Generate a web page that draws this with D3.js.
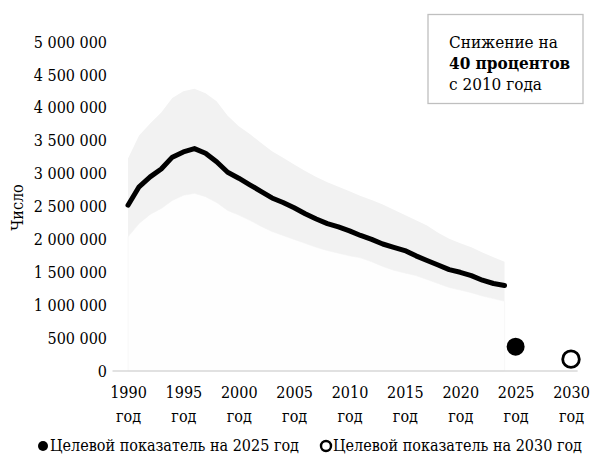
<!DOCTYPE html>
<html>
<head>
<meta charset="utf-8">
<script src="https://cdn.jsdelivr.net/npm/d3@7"></script>
<style>
  html, body { margin: 0; padding: 0; background: #fff; }
  svg text { font-family: "DejaVu Serif Condensed", "DejaVu Serif", serif; font-stretch: condensed; font-size: 16px; }
  svg text.note { font-size: 17px; }
</style>
</head>
<body>
<svg id="chart" width="596" height="454"></svg>
<script>
const years = d3.range(1990, 2025);
const central = [2.52,2.80,2.95,3.07,3.25,3.33,3.38,3.31,3.18,3.02,2.93,2.83,2.73,2.63,2.56,2.48,2.39,2.31,2.24,2.19,2.13,2.06,2.00,1.93,1.88,1.83,1.75,1.68,1.61,1.54,1.50,1.45,1.38,1.33,1.30].map(v => v * 1e6);
const upper = [3.23,3.58,3.76,3.93,4.15,4.25,4.29,4.22,4.10,3.88,3.72,3.60,3.47,3.34,3.24,3.14,3.04,2.95,2.87,2.80,2.73,2.66,2.60,2.53,2.45,2.37,2.29,2.21,2.10,2.01,1.94,1.88,1.80,1.73,1.66].map(v => v * 1e6);
const lower = [2.04,2.24,2.38,2.47,2.59,2.67,2.70,2.65,2.56,2.44,2.37,2.29,2.20,2.12,2.06,2.00,1.94,1.88,1.83,1.79,1.75,1.72,1.66,1.59,1.53,1.49,1.45,1.39,1.33,1.27,1.23,1.19,1.14,1.10,1.06].map(v => v * 1e6);
const targetYears = [2025, 2030];
const targetValues = [370000, 180000];
const targetFilled = [true, false];
const xTicks = [1990, 1995, 2000, 2005, 2010, 2015, 2020, 2025, 2030];
const yTicks = [0, 500000, 1000000, 1500000, 2000000, 2500000, 3000000, 3500000, 4000000, 4500000, 5000000];
const yTitle = "Число";
const tickSuffix = "год";
const noteLines = ["Снижение на", "40 процентов", "с 2010 года"];
const legendLabels = ["Целевой показатель на 2025 год", "Целевой показатель на 2030 год"];

const svg = d3.select("#chart");
const x = d3.scaleLinear().domain([1990, 2030]).range([128, 571]);
const y = d3.scaleLinear().domain([0, 5000000]).range([371, 42]);
const fmt = d3.formatLocale({decimal: ",", thousands: " ", grouping: [3], currency: ["", ""]}).format(",d");

const data = years.map((yr, i) => ({yr, c: central[i], u: upper[i], l: lower[i]}));

svg.append("path").datum(data)
  .attr("d", d3.area().x(d => x(d.yr)).y0(y(0)).y1(d => y(d.l)))
  .attr("fill", "#fefefe").attr("stroke", "#f6f6f6").attr("stroke-width", 0.8);

svg.append("path").datum(data)
  .attr("d", d3.area().x(d => x(d.yr)).y0(d => y(d.l)).y1(d => y(d.u)))
  .attr("fill", "#f2f2f2");

svg.append("line")
  .attr("x1", x(1988.6)).attr("x2", x(2030.6))
  .attr("y1", y(0)).attr("y2", y(0))
  .attr("stroke", "#d9d9d9").attr("stroke-width", 1.5);

svg.append("path").datum(data)
  .attr("d", d3.line().x(d => x(d.yr)).y(d => y(d.c)))
  .attr("fill", "none").attr("stroke", "#000").attr("stroke-width", 5)
  .attr("stroke-linejoin", "round").attr("stroke-linecap", "round");

targetYears.forEach((yr, i) => {
  svg.append("circle")
    .attr("cx", x(yr)).attr("cy", y(targetValues[i]))
    .attr("r", targetFilled[i] ? 9 : 8.3)
    .attr("fill", targetFilled[i] ? "#000" : "#fff")
    .attr("stroke", "#000").attr("stroke-width", targetFilled[i] ? 0 : 2.8);
});

const yAxis = svg.append("g").attr("transform", "translate(107,0)")
  .call(d3.axisLeft(y).tickValues(yTicks).tickSize(0).tickPadding(0).tickFormat(fmt));
yAxis.select(".domain").remove();
yAxis.selectAll("text").attr("fill", "#000");

const xAxis = svg.append("g").attr("transform", `translate(0,${y(0)})`)
  .call(d3.axisBottom(x).tickValues(xTicks).tickSize(0).tickPadding(0).tickFormat(""));
xAxis.select(".domain").remove();
xAxis.selectAll(".tick text").remove();
xAxis.selectAll(".tick").each(function(d) {
  const t = d3.select(this).append("text")
    .attr("fill", "#000").attr("text-anchor", "middle");
  t.append("tspan").attr("x", 0).attr("y", 27).text(d);
  t.append("tspan").attr("x", 0).attr("y", 51).text(tickSuffix);
});

svg.append("text")
  .attr("transform", `translate(23,${(y(0) + y(5000000)) / 2 + 1}) rotate(-90)`)
  .attr("text-anchor", "middle").attr("fill", "#000")
  .text(yTitle);

svg.append("rect").attr("x", 428).attr("y", 14.5).attr("width", 155).attr("height", 89)
  .attr("fill", "#fff").attr("stroke", "#bfbfbf").attr("stroke-width", 1.3);
noteLines.forEach((ln, i) => {
  svg.append("text").attr("class", "note").attr("x", 449).attr("y", 48 + i * 21)
    .attr("font-weight", i === 1 ? "bold" : "normal")
    .attr("fill", "#000").text(ln);
});

const legX = [43, 326];
legendLabels.forEach((lab, i) => {
  svg.append("circle").attr("cx", legX[i]).attr("cy", 446)
    .attr("r", 5)
    .attr("fill", i === 0 ? "#000" : "#fff")
    .attr("stroke", "#000").attr("stroke-width", i === 0 ? 0 : 2.4);
  svg.append("text").attr("x", legX[i] + 7).attr("y", 451)
    .attr("fill", "#000").text(lab);
});
</script>
</body>
</html>
